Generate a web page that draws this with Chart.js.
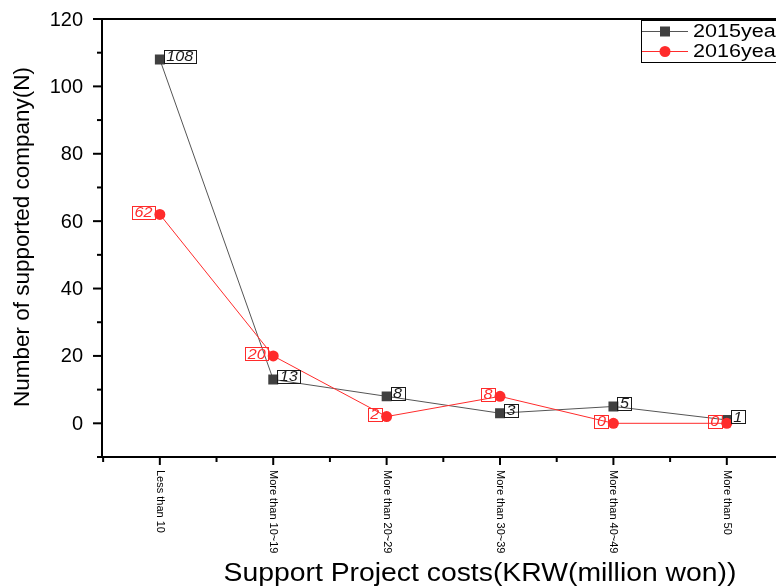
<!DOCTYPE html>
<html>
<head>
<meta charset="utf-8">
<script src="https://cdn.jsdelivr.net/npm/chart.js@4"></script>
<style>
html, body { margin: 0; padding: 0; overflow: hidden; background: #fff; }
</style>
</head>
<body>
<canvas id="myChart" width="800" height="587"></canvas>
<script>
const categories = ['Less than 10', 'More than 10~19', 'More than 20~29', 'More than 30~39', 'More than 40~49', 'More than 50'];
const series2015 = [108, 13, 8, 3, 5, 1];
const series2016 = [62, 20, 2, 8, 0, 0];
const seriesNames = ['2015year', '2016year'];
const yTicks = [0, 20, 40, 60, 80, 100, 120];
const xTitle = 'Support Project costs(KRW(million won))';
const yTitle = 'Number of supported company(N)';

const black = '#000';
const gray = '#404040';
const red = '#ff2b2b';

// draw text squeezed / stretched horizontally, like the original picture
function wideText(ctx, text, x, y, sx, align) {
    ctx.save();
    ctx.translate(x, y);
    ctx.scale(sx, 1);
    ctx.textAlign = align;
    ctx.fillText(text, 0, 0);
    ctx.restore();
}

const framePlugin = {
    id: 'frame',
    afterDatasetsDraw(chart) {
        const ctx = chart.ctx;
        const xs = chart.scales.x;
        const ys = chart.scales.y;
        const a = chart.chartArea;

        ctx.save();
        ctx.strokeStyle = black;
        ctx.fillStyle = black;

        // frame
        ctx.lineWidth = 2;
        ctx.beginPath();
        ctx.moveTo(a.right, a.top);
        ctx.lineTo(a.left, a.top);
        ctx.lineTo(a.left, a.bottom);
        ctx.lineTo(a.right, a.bottom);
        ctx.stroke();

        // y ticks
        for (let v = ys.min; v <= ys.max; v += 10) {
            let py = ys.getPixelForValue(v);
            let len = yTicks.includes(v) ? 9 : 5;
            ctx.beginPath();
            ctx.moveTo(a.left - len, py);
            ctx.lineTo(a.left, py);
            ctx.stroke();
        }
        ctx.font = '20px Arial, "Liberation Sans"';
        ctx.textBaseline = 'middle';
        for (let i = 0; i < yTicks.length; i++) {
            wideText(ctx, String(yTicks[i]), a.left - 19, ys.getPixelForValue(yTicks[i]) + 1, 1, 'right');
        }

        // x ticks
        for (let v = -0.5; v <= categories.length - 0.5; v += 0.5) {
            let px = xs.getPixelForValue(v);
            let len = Number.isInteger(v) ? 8 : 5;
            ctx.beginPath();
            ctx.moveTo(px, a.bottom);
            ctx.lineTo(px, a.bottom + len);
            ctx.stroke();
        }
        ctx.font = '11px Arial, "Liberation Sans"';
        for (let i = 0; i < categories.length; i++) {
            ctx.save();
            ctx.translate(xs.getPixelForValue(i), a.bottom + 13);
            ctx.rotate(Math.PI / 2);
            ctx.textAlign = 'left';
            ctx.textBaseline = 'middle';
            ctx.fillText(categories[i], 0, 0);
            ctx.restore();
        }

        // axis titles
        ctx.font = '26px Arial, "Liberation Sans"';
        ctx.textBaseline = 'alphabetic';
        wideText(ctx, xTitle, 480, 581, 1.09, 'center');
        ctx.save();
        ctx.translate(23, 237);
        ctx.rotate(-Math.PI / 2);
        ctx.font = '22.5px Arial, "Liberation Sans"';
        ctx.textAlign = 'center';
        ctx.textBaseline = 'middle';
        ctx.fillText(yTitle, 0, 0);
        ctx.restore();

        // value boxes
        ctx.font = 'italic 14px Arial, "Liberation Sans"';
        ctx.lineWidth = 1;
        chart.data.datasets.forEach((ds, d) => {
            let meta = chart.getDatasetMeta(d);
            meta.data.forEach((pt, i) => {
                let txt = String(ds.data[i].y);
                let w = ctx.measureText(txt).width * 1.15 + 5;
                let h = 13;
                let left, cy;
                if (d === 0) {
                    left = pt.x + 4;
                    cy = pt.y - 3;
                } else {
                    left = pt.x - 5 - w;
                    cy = pt.y - 2;
                }
                ctx.strokeStyle = ds.labelColor;
                ctx.fillStyle = ds.labelColor;
                ctx.strokeRect(Math.round(left) + 0.5, Math.round(cy - h / 2) + 0.5, Math.round(w), h);
                ctx.textBaseline = 'middle';
                wideText(ctx, txt, left + w / 2, cy + 1, 1.15, 'center');
            });
        });

        // legend
        ctx.strokeStyle = black;
        ctx.lineWidth = 1;
        ctx.strokeRect(641.5, 20.5, 200, 42);
        ctx.font = '18px Arial, "Liberation Sans"';
        ctx.textBaseline = 'middle';
        chart.data.datasets.forEach((ds, d) => {
            let ly = 31.5 + d * 20;
            ctx.strokeStyle = ds.borderColor;
            ctx.beginPath();
            ctx.moveTo(642, ly);
            ctx.lineTo(688, ly);
            ctx.stroke();
            ctx.fillStyle = ds.pointBackgroundColor;
            if (d === 0) {
                ctx.fillRect(660, ly - 5, 10, 10);
            } else {
                ctx.beginPath();
                ctx.arc(665, ly, 5.5, 0, Math.PI * 2);
                ctx.fill();
            }
            ctx.fillStyle = black;
            wideText(ctx, ds.label, 693, ly + 1, 1.2, 'left');
        });

        ctx.restore();
    }
};

const ctx = document.getElementById('myChart').getContext('2d');
const chart = new Chart(ctx, {
    type: 'line',
    data: {
        datasets: [{
            label: seriesNames[0],
            data: series2015.map((v, i) => ({ x: i, y: v })),
            borderColor: '#555555',
            borderWidth: 1,
            pointStyle: 'rect',
            pointRadius: 7,
            pointBackgroundColor: gray,
            pointBorderColor: gray,
            pointBorderWidth: 0,
            labelColor: '#1a1a1a',
            order: 2,
            tension: 0
        }, {
            label: seriesNames[1],
            data: series2016.map((v, i) => ({ x: i, y: v })),
            borderColor: red,
            borderWidth: 1,
            pointStyle: 'circle',
            pointRadius: 5.5,
            pointBackgroundColor: red,
            pointBorderColor: red,
            pointBorderWidth: 0,
            labelColor: red,
            order: 1,
            tension: 0
        }]
    },
    options: {
        responsive: false,
        animation: false,
        layout: {
            padding: { left: 102, top: 19, right: 16.5, bottom: 130 }
        },
        plugins: {
            legend: { display: false },
            tooltip: { enabled: false }
        },
        scales: {
            x: { type: 'linear', display: false, min: -0.51, max: 5.5 },
            y: { display: false, min: -10, max: 120 }
        }
    },
    plugins: [framePlugin]
});
</script>
</body>
</html>
